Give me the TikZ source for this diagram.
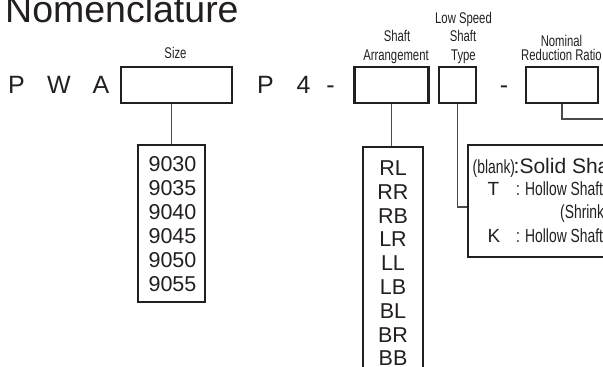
\documentclass[tikz,border=0pt]{standalone}
\usepackage{fontspec}
\setmainfont{Liberation Sans}
\newfontfamily\narrowf[FakeStretch=0.73]{Liberation Sans}
\definecolor{ink}{HTML}{231F20}
\definecolor{connc}{HTML}{4A4A4A}
\begin{document}
\begin{tikzpicture}[x=1pt,y=-1pt,
  box/.style={draw=ink,line width=2.5pt,inner sep=0pt},
  conn/.style={draw=connc,line width=1.2pt},
  txt/.style={inner sep=0pt,anchor=base,text=ink},
  big/.style={txt,font=\fontsize{25}{30}\selectfont},
  lab/.style={txt,font=\narrowf\fontsize{15.5}{18}\selectfont},
  item/.style={txt,font=\fontsize{21.5}{24}\selectfont},
  nar/.style={txt,anchor=base west,font=\narrowf\fontsize{19}{22}\selectfont},
  reg/.style={txt,font=\fontsize{19}{22}\selectfont}]
\useasboundingbox (0,0) rectangle (603,367);
\clip (0,0) rectangle (603,367);

% title
\node[txt,anchor=base west,font=\fontsize{37.5}{40}\selectfont] (title) at (5,22) {Nomenclature};

% code letters
\node[big] (c1) at (16.5,93) {P};
\node[big] (c2) at (59,93) {W};
\node[big] (c3) at (101,93) {A};
\node[big] (c4) at (265.5,93) {P};
\node[big] (c5) at (303.5,93) {4};
\node[big] (c6) at (330.5,93) {-};
\node[big] (c7) at (504,93) {-};

% code boxes
\node[box,minimum width=111pt,minimum height=36pt] (size) at (176.5,85) {};
\node[box,minimum width=74pt,minimum height=36pt] (shaft) at (391.5,85) {};
\node[box,minimum width=37pt,minimum height=36pt] (lst) at (457.5,85) {};
\node[box,minimum width=72pt,minimum height=36pt] (nom) at (562,85) {};

% labels
\node[lab] (lsize) at (175.5,58) {Size};
\node[lab] (lsa1) at (397,41.5) {Shaft};
\node[lab] (lsa2) at (396,60) {Arrangement};
\node[lab] (llst1) at (463.5,23) {Low Speed};
\node[lab] (llst2) at (463,41.5) {Shaft};
\node[lab] (llst3) at (463.5,60) {Type};
\node[lab] (lnom1) at (561.5,46.5) {Nominal};
\node[lab] (lnom2) at (561.5,60) {Reduction Ratio};

% size list
\node[box,minimum width=67pt,minimum height=157pt] (nums) at (171.5,223.5) {};
\foreach \t [count=\i] in {9030,9035,9040,9045,9050,9055}
  \node[item] (n\i) at (172.5,{171+24*(\i-1)}) {\t};

% shaft arrangement list
\node[box,minimum width=60pt,minimum height=233pt] (rl) at (393,263.5) {};
\foreach \t [count=\i] in {RL,RR,RB,LR,LL,LB,BL,BR,BB}
  \node[item] (s\i) at (393,{175.5+23.8*(\i-1)}) {\t};

% low speed shaft type box
\node[box,minimum width=172pt,minimum height=112pt] (info) at (554,201) {};
\node[nar] (i1) at (472.5,173) {(blank)};
\node[txt,anchor=base west,font=\fontsize{21}{24}\selectfont] (i2) at (513.5,173) {:Solid Shaft};
\node[reg] (i3) at (493.5,195) {T};
\node[nar] (i4) at (516,195.5) {: Hollow Shaft};
\node[nar] (i5) at (560,218) {(Shrink};
\node[reg] (i6) at (494,242) {K};
\node[nar] (i7) at (516,242.5) {: Hollow Shaft};

% connectors
\coordinate (lstin) at (info.west |- 0,207);
\coordinate (nomout) at (620,119);
\draw[conn] (nums.north |- size.south) -- (nums.north);
\draw[conn] (shaft.south) -- (shaft.south |- rl.north);
\draw[conn] (lst.south) |- (lstin);
\draw[conn] (nom.south) |- (nomout);
\end{tikzpicture}
\end{document}
